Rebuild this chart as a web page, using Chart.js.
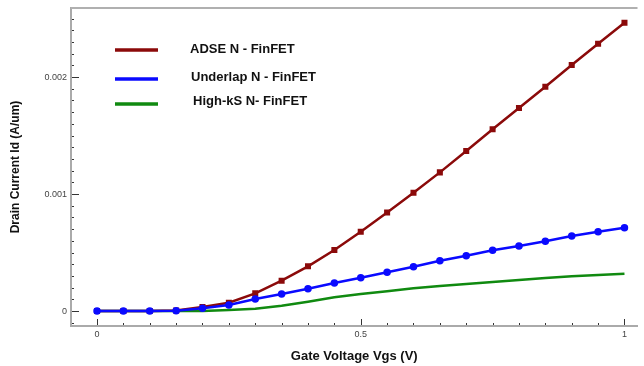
<!DOCTYPE html>
<html>
<head>
<meta charset="utf-8">
<script src="https://cdn.jsdelivr.net/npm/chart.js@4.4.0/dist/chart.umd.min.js"></script>
<style>
  html, body { margin: 0; padding: 0; background: #fff; overflow: hidden; }
  #wrap { width: 644px; height: 366px; }
  canvas { display: block; }
</style>
</head>
<body>
<div id="wrap"><canvas id="myChart" width="644" height="366"></canvas></div>
<script>
const ctx = document.getElementById('myChart');

// gate voltage sweep
const vgs = [0, 0.05, 0.1, 0.15, 0.2, 0.25, 0.3, 0.35, 0.4, 0.45, 0.5,
             0.55, 0.6, 0.65, 0.7, 0.75, 0.8, 0.85, 0.9, 0.95, 1];

const adse = [0, 0, 0, 0.000005, 0.000034, 0.000071, 0.000151, 0.000259, 0.000382, 0.000521, 0.000678,
              0.000843, 0.00101, 0.001185, 0.001368, 0.001553, 0.001735, 0.001917, 0.002103, 0.002285, 0.002464];

const underlap = [0, 0, 0, 0.000003, 0.000023, 0.000051, 0.000103, 0.000145, 0.00019, 0.000239, 0.000285,
                  0.000331, 0.000379, 0.00043, 0.000473, 0.000519, 0.000556, 0.000596, 0.000641, 0.000678, 0.000712];

const highk = [0, 0, 0, 0, 0, 0.000009, 0.00002, 0.000045, 0.00008, 0.000117, 0.000145,
               0.00017, 0.000194, 0.000214, 0.000231, 0.000248, 0.000265, 0.000282, 0.000297, 0.000308, 0.000319];

const seriesNames = ['ADSE N - FinFET', 'Underlap N - FinFET', 'High-kS N- FinFET'];

const xTicks = [0, 0.5, 1];
const yTicks = [0, 0.001, 0.002];

function pts(ys) {
  return vgs.map((v, i) => ({x: v, y: ys[i]}));
}

const noPad = () => ({left: 0, top: 0, right: 0, bottom: 0});

// frame, inward ticks and the in-plot legend
const extras = {
  id: 'extras',
  afterDraw(chart) {
    const c = chart.ctx;
    const a = chart.chartArea;
    const xs = chart.scales.x, ys = chart.scales.y;
    c.save();
    c.strokeStyle = '#b0b0b0';
    c.lineWidth = 2;
    c.beginPath();
    c.moveTo(a.left, a.top); c.lineTo(a.right, a.top);
    c.stroke();

    c.strokeStyle = '#333';
    c.lineWidth = 1;
    // x ticks
    for (let i = 0; i <= 20; i++) {
      const v = i * 0.05;
      const px = Math.round(xs.getPixelForValue(v)) + 0.5;
      const major = i % 10 === 0;
      c.beginPath();
      c.moveTo(px, a.bottom - 1);
      c.lineTo(px, a.bottom - (major ? 7 : 3));
      c.stroke();
    }
    // y ticks
    for (let i = -1; i <= 25; i++) {
      const v = i * 0.0001;
      const py = Math.round(ys.getPixelForValue(v)) + 0.5;
      if (py < a.top || py > a.bottom) continue;
      const major = i % 10 === 0;
      c.beginPath();
      c.moveTo(a.left + 1, py);
      c.lineTo(a.left + (major ? 8 : 3), py);
      c.stroke();
    }

    // legend
    const rows = [
      {y: 50, ty: 49, tx: 190},
      {y: 79, ty: 77, tx: 191},
      {y: 104, ty: 101, tx: 193}
    ];
    chart.data.datasets.forEach((ds, i) => {
      const r = rows[i];
      c.strokeStyle = ds.borderColor;
      c.lineWidth = 3.5;
      c.beginPath();
      c.moveTo(115, r.y); c.lineTo(158, r.y);
      c.stroke();
      c.fillStyle = '#111';
      c.font = 'bold 13px "Liberation Sans", Arial, sans-serif';
      c.textBaseline = 'middle';
      c.textAlign = 'left';
      c.fillText(ds.label, r.tx, r.ty);
    });
    c.restore();
  }
};

const data = {
  datasets: [{
    label: seriesNames[0],
    data: pts(adse),
    borderColor: '#8b0a0a',
    backgroundColor: '#8b0a0a',
    borderWidth: 2.5,
    pointStyle: 'rect',
    pointRadius: 2.5,
    order: 1
  }, {
    label: seriesNames[1],
    data: pts(underlap),
    borderColor: '#0a0aff',
    backgroundColor: '#0a0aff',
    borderWidth: 2.5,
    pointStyle: 'circle',
    pointRadius: 2.5,
    order: 0
  }, {
    label: seriesNames[2],
    data: pts(highk),
    borderColor: '#108a10',
    backgroundColor: '#108a10',
    borderWidth: 2.5,
    pointRadius: 0,
    order: 2
  }]
};

const config = {
  type: 'line',
  data: data,
  options: {
    responsive: false,
    animation: false,
    layout: { padding: { top: 8, right: 0, left: 0, bottom: 0 } },
    plugins: { legend: { display: false }, tooltip: { enabled: false } },
    elements: { line: { tension: 0 } },
    scales: {
      x: {
        type: 'linear',
        min: -0.0493,
        max: 1.0247,
        afterFit(s) { s.height = 40; s.paddingLeft = 0; s.paddingRight = 0; s.getPadding = noPad; },
        afterBuildTicks(s) { s.ticks = xTicks.map(v => ({value: v})); },
        grid: { display: false, drawTicks: false },
        border: { display: true, color: '#aaaaaa', width: 2 },
        ticks: {
          padding: 3,
          color: '#444',
          font: { family: '"Liberation Sans", Arial, sans-serif', size: 9 },
          callback: v => String(v),
          maxRotation: 0
        },
        title: {
          display: true,
          text: 'Gate Voltage Vgs (V)',
          color: '#111',
          font: { family: '"Liberation Sans", Arial, sans-serif', size: 13, weight: 'bold' },
          padding: { top: 0, bottom: 2 }
        }
      },
      y: {
        type: 'linear',
        min: -0.000128,
        max: 0.00259,
        afterFit(s) { s.width = 71; s.paddingTop = 0; s.paddingBottom = 0; s.getPadding = noPad; },
        afterBuildTicks(s) { s.ticks = yTicks.map(v => ({value: v})); },
        grid: { display: false, drawTicks: false },
        border: { display: true, color: '#aaaaaa', width: 2 },
        ticks: {
          padding: 4,
          color: '#444',
          font: { family: '"Liberation Sans", Arial, sans-serif', size: 9 },
          callback: v => String(v)
        },
        title: {
          display: true,
          text: 'Drain Current Id (A/um)',
          color: '#111',
          font: { family: '"Liberation Sans", Arial, sans-serif', size: 12, weight: 'bold' },
          padding: { top: 8, bottom: 0 }
        }
      }
    }
  },
  plugins: [extras]
};

let chart = new Chart(ctx, config);
</script>
</body>
</html>
